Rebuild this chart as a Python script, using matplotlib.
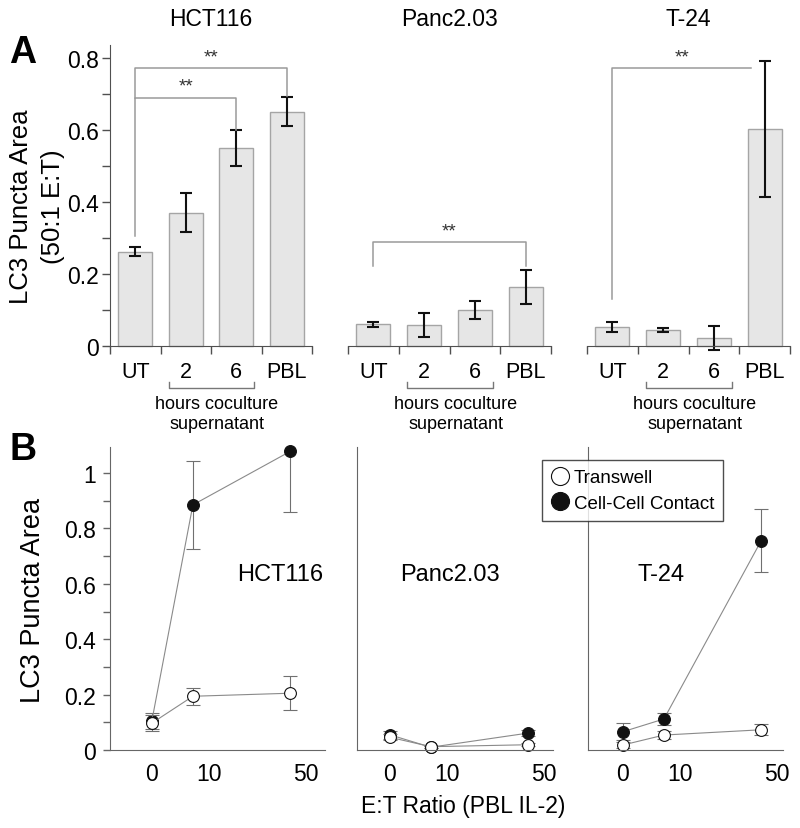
import numpy as np
import matplotlib.pyplot as plt
from matplotlib.lines import Line2D

plt.rcParams['font.family'] = ['Liberation Sans', 'DejaVu Sans']

# ---- panel A: LC3 puncta area (50:1 E:T), bars ----
cell_lines = ['HCT116', 'Panc2.03', 'T-24']
bar_labels = ['UT', '2', '6', 'PBL']
hct_bar = [0.262, 0.370, 0.551, 0.651]
hct_bar_err = [0.012, 0.054, 0.050, 0.041]
panc_bar = [0.060, 0.058, 0.100, 0.164]
panc_bar_err = [0.007, 0.034, 0.025, 0.047]
t24_bar = [0.053, 0.044, 0.022, 0.603]
t24_bar_err = [0.013, 0.006, 0.033, 0.188]

# significance brackets: (from, to, level, left drop, right drop)
hct_sig = [(0, 2, 0.690, 0.305, 0.600), (0, 3, 0.772, 0.690, 0.695)]
panc_sig = [(0, 3, 0.288, 0.223, 0.223)]
t24_sig = [(0, 2.74, 0.772, 0.130, None)]

# ---- panel B: LC3 puncta area vs E:T ratio ----
et_labels = ['0', '10', '50']
hct_contact = [0.105, 0.885, 1.078]
hct_contact_err = [0.030, 0.160, 0.220]
hct_transwell = [0.097, 0.194, 0.205]
hct_transwell_err = [0.030, 0.030, 0.062]
panc_contact = [0.055, 0.010, 0.061]
panc_contact_err = [0.015, 0.004, 0.012]
panc_transwell = [0.046, 0.012, 0.019]
panc_transwell_err = [0.010, 0.004, 0.005]
t24_contact = [0.066, 0.112, 0.756]
t24_contact_err = [0.030, 0.022, 0.113]
t24_transwell = [0.018, 0.054, 0.073]
t24_transwell_err = [0.012, 0.014, 0.020]

W, H = 800, 829
fig = plt.figure(figsize=(W / 100, H / 100), dpi=100)


def px_axes(left, right, bottom, top):
    return fig.add_axes([left / W, 1 - bottom / H, (right - left) / W, (bottom - top) / H])


spine_col = '#505050'

# ---------------- A ----------------
bar_sets = [(hct_bar, hct_bar_err, hct_sig), (panc_bar, panc_bar_err, panc_sig),
            (t24_bar, t24_bar_err, t24_sig)]
a_x = [(110, 312), (348, 551), (587, 790)]
for k, (vals, errs, sig) in enumerate(bar_sets):
    ax = px_axes(a_x[k][0], a_x[k][1], 357.8, 46.4)
    x = np.arange(len(bar_labels))
    ax.bar(x, vals, width=0.67, color='#e6e6e6', edgecolor='#a5a5a5', linewidth=1)
    ax.errorbar(x, vals, yerr=errs, fmt='none', ecolor='#111111', elinewidth=1.5,
                capsize=4, capthick=1.5, clip_on=False)
    ax.set_xlim(-0.5, 3.5)
    ax.set_ylim(-0.03, 0.835)
    for s in ['top', 'right']:
        ax.spines[s].set_visible(False)
    ax.spines['bottom'].set_position(('data', 0))
    ax.spines['bottom'].set_color(spine_col)
    ax.set_xticks(np.arange(-0.5, 4, 1))
    ax.set_xticklabels([])
    ax.set_xticks(x, minor=True)
    ax.set_xticklabels(bar_labels, minor=True, fontsize=15.5)
    ax.tick_params(axis='x', which='major', direction='out', length=6, width=1, color=spine_col)
    ax.tick_params(axis='x', which='minor', length=0, pad=11)
    if k == 0:
        ax.spines['left'].set_bounds(0, 0.835)
        ax.spines['left'].set_color(spine_col)
        ax.set_yticks([0, 0.2, 0.4, 0.6, 0.8])
        ax.set_yticklabels(['0', '0.2', '0.4', '0.6', '0.8'], fontsize=16.5)
        ax.set_yticks(np.arange(0.1, 0.8, 0.2), minor=True)
        ax.tick_params(axis='y', which='both', direction='out', length=6, width=1,
                       color=spine_col, pad=2)
    else:
        ax.spines['left'].set_visible(False)
        ax.set_yticks([])
    # significance brackets
    for (i, j, lev, dl, dr) in sig:
        xs = [i, i, j]
        ys = [dl, lev, lev]
        if dr is not None:
            xs.append(j)
            ys.append(dr)
        ax.plot(xs, ys, color='#9a9a9a', lw=1.1, clip_on=False)
        ax.text((i + j) / 2, lev + 0.008, '**', ha='center', va='bottom', fontsize=13.5,
                color='#333333')
    # hours coculture bracket
    ax.plot([0.67, 0.67, 2.35, 2.35], [-0.100, -0.117, -0.117, -0.100],
            color='#777777', lw=1, clip_on=False)
    ax.text(1.62, -0.1875, 'hours coculture\nsupernatant', ha='center', va='center',
            fontsize=13, linespacing=1.3)
    fig.text((a_x[k][0] + a_x[k][1]) / 2 / W, 1 - 20 / H, cell_lines[k], ha='center',
             va='center', fontsize=16.5)

# A y label, two lines
fig.text(21 / W, 1 - 207 / H, 'LC3 Puncta Area', rotation=90, ha='center', va='center',
         fontsize=18.5)
fig.text(53 / W, 1 - 207 / H, '(50:1 E:T)', rotation=90, ha='center', va='center',
         fontsize=18.5)

# ---------------- B ----------------
point_pos = [0, 1, 3.37]
label_pos = [0, 1.4, 3.75]
line_sets = [(hct_contact, hct_contact_err, hct_transwell, hct_transwell_err),
             (panc_contact, panc_contact_err, panc_transwell, panc_transwell_err),
             (t24_contact, t24_contact_err, t24_transwell, t24_transwell_err)]
b_x = [(110, 325), (357, 553), (588, 783)]
b_xlim = [(-1.02, 4.22), (-0.8, 3.98), (-0.85, 3.9)]
b_name_x = [280, 450, 661]
for k, (c, ce, t, te) in enumerate(line_sets):
    ax = px_axes(b_x[k][0], b_x[k][1], 751, 448)
    for vals, errs, face in [(c, ce, '#111111'), (t, te, 'white')]:
        ax.errorbar(point_pos, vals, yerr=errs, fmt='none', ecolor='#707070',
                    elinewidth=0.8, capsize=5, capthick=0.8)
        ax.plot(point_pos, vals, color='#8a8a8a', lw=0.8, marker='o', markersize=8.5,
                markerfacecolor=face, markeredgecolor='#111111', markeredgewidth=0.8,
                clip_on=False)
    ax.set_xlim(*b_xlim[k])
    ax.set_ylim(0, 1.094)
    for s in ['top', 'right']:
        ax.spines[s].set_visible(False)
    for s in ['left', 'bottom']:
        ax.spines[s].set_color('#666666')
    ax.set_xticks(label_pos)
    ax.set_xticklabels(et_labels, fontsize=16.5)
    ax.tick_params(axis='x', length=0, pad=9)
    if k == 0:
        ax.set_yticks([0, 0.2, 0.4, 0.6, 0.8, 1.0])
        ax.set_yticklabels(['0', '0.2', '0.4', '0.6', '0.8', '1'], fontsize=16.5)
        ax.set_yticks(np.arange(0.1, 1.05, 0.2), minor=True)
        ax.tick_params(axis='y', which='both', direction='out', length=5, width=1,
                       color='#666666', pad=5)
    else:
        ax.set_yticks([])
    fig.text(b_name_x[k] / W, 1 - 575 / H, cell_lines[k], ha='center', va='center',
             fontsize=17)

fig.text(33 / W, 1 - 600 / H, 'LC3 Puncta Area', rotation=90, ha='center', va='center',
         fontsize=19.5)
fig.text(463 / W, 1 - 807 / H, 'E:T Ratio (PBL IL-2)', ha='center', va='center', fontsize=16.5)

handles = [Line2D([], [], ls='none', marker='o', markersize=13, markerfacecolor='white',
                  markeredgecolor='#111111', markeredgewidth=0.8),
           Line2D([], [], ls='none', marker='o', markersize=13, markerfacecolor='#111111',
                  markeredgecolor='#111111', markeredgewidth=0.8)]
leg = fig.legend(handles, ['Transwell', 'Cell-Cell Contact'], loc='upper left',
                 bbox_to_anchor=(541.7 / W, 1 - 460.7 / H), frameon=True, fancybox=False,
                 edgecolor='#222222', fontsize=13.5, handlelength=0.9, handletextpad=0.3,
                 borderpad=0.5, labelspacing=0.45, borderaxespad=0)
leg.get_frame().set_linewidth(1)

# panel letters
fig.text(23 / W, 1 - 53 / H, 'A', ha='center', va='center', fontsize=27, fontweight='bold')
fig.text(23 / W, 1 - 450 / H, 'B', ha='center', va='center', fontsize=27, fontweight='bold')

fig.savefig('out.png', dpi=100)
